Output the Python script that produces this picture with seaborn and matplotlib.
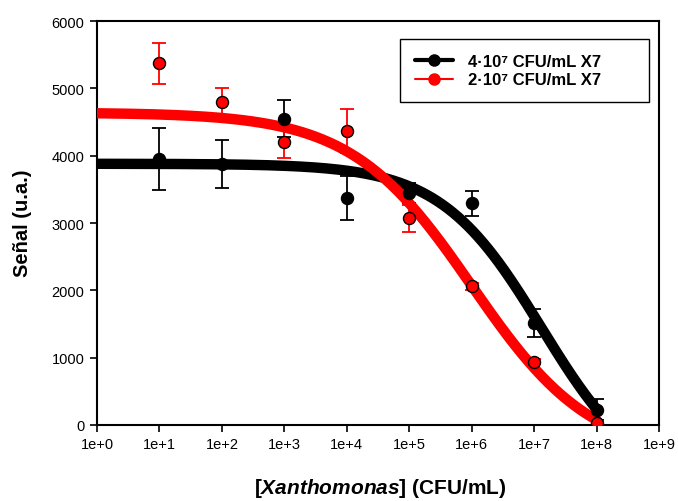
import numpy as np
import pandas as pd
import matplotlib
matplotlib.use("Agg")
import matplotlib.pyplot as plt
import seaborn as sns
from matplotlib.lines import Line2D

# ---- data ----
conc = [1e1, 1e2, 1e3, 1e4, 1e5, 1e6, 1e7, 1e8]
black_vals = [3950, 3880, 4550, 3370, 3450, 3290, 1510, 230]
black_err = [460, 360, 280, 330, 150, 190, 210, 150]
red_vals = [5370, 4800, 4210, 4370, 3070, 2060, 940, 30]
red_err = [300, 210, 250, 330, 200, 50, 40, 30]

# 4-parameter logistic fit parameters (top, bottom, log10 EC50, Hill slope)
black_fit = dict(top=3880, bottom=-1000, logx0=7.12, hill=0.534)
red_fit = dict(top=4640, bottom=-500, logx0=6.0, hill=0.45)

labels = ["4·10⁷ CFU/mL X7", "2·10⁷ CFU/mL X7"]
colors = ["black", "red"]
xtick_exps = list(range(0, 10))
yticks = [0, 1000, 2000, 3000, 4000, 5000, 6000]

sns.set_theme(style="ticks")
plt.rcParams["font.family"] = ["Liberation Sans", "DejaVu Sans"]
plt.rcParams["text.color"] = "black"
plt.rcParams["axes.labelcolor"] = "black"
plt.rcParams["mathtext.fontset"] = "custom"
plt.rcParams["mathtext.it"] = "Liberation Sans:italic:bold"
plt.rcParams["mathtext.rm"] = "Liberation Sans:bold"
plt.rcParams["mathtext.bf"] = "Liberation Sans:bold"

fig = plt.figure(figsize=(6.78, 5.02), dpi=100)
ax = fig.add_axes([97 / 678, 76 / 502, (659 - 97) / 678, (426 - 22) / 502])

xs = np.logspace(0, 8, 300)


def fourpl(x, top, bottom, logx0, hill):
    return bottom + (top - bottom) / (1 + (x / 10 ** logx0) ** hill)


curves = []
for lab, p in zip(labels, [black_fit, red_fit]):
    curves.append(pd.DataFrame({"x": xs, "y": fourpl(xs, **p), "series": lab}))
curve_df = pd.concat(curves)

pts = pd.DataFrame({
    "x": conc * 2,
    "y": black_vals + red_vals,
    "err": black_err + red_err,
    "series": [labels[0]] * len(conc) + [labels[1]] * len(conc),
})
palette = dict(zip(labels, colors))

# error bars
for lab, col in zip(labels, colors):
    sub = pts[pts.series == lab]
    ax.errorbar(sub.x, sub.y, yerr=sub.err, fmt="none", ecolor=col,
                elinewidth=1.3, capsize=5, capthick=1.3, zorder=2)

# fitted curves
sns.lineplot(data=curve_df, x="x", y="y", hue="series", palette=palette,
             linewidth=7.5, ax=ax, legend=False, zorder=3, sort=False,
             estimator=None)

# points
for lab, col in zip(labels, colors):
    sub = pts[pts.series == lab]
    sns.scatterplot(data=sub, x="x", y="y", color=col, edgecolor="black",
                    linewidth=1.0, s=75, ax=ax, zorder=4, legend=False)

ax.set_xscale("log")
ax.set_xlim(1e0, 1e9)
ax.set_ylim(0, 6000)
ax.set_xticks([10.0 ** e for e in xtick_exps])
ax.set_xticklabels([f"1e+{e}" for e in xtick_exps])
ax.xaxis.set_minor_locator(matplotlib.ticker.NullLocator())
ax.set_yticks(yticks)
ax.set_yticklabels([str(v) for v in yticks])
ax.tick_params(axis="both", direction="out", length=5, width=1.2,
               labelsize=10.5, colors="black", pad=4)
for s in ax.spines.values():
    s.set_visible(True)
    s.set_linewidth(1.5)
    s.set_color("black")
ax.grid(False)

ax.set_xlabel("")
ax.set_ylabel("")
fig.text(380 / 678, 1 - 489 / 502, "[$\\it{Xanthomonas}$] (CFU/mL)",
         fontsize=15, fontweight="bold", ha="center", va="center")
fig.text(23 / 678, 1 - 223 / 502, "Señal (u.a.)", fontsize=14.5,
         fontweight="bold", ha="center", va="center", rotation=90)

# legend
handles = [
    Line2D([], [], color="black", lw=3, marker="o", markersize=8,
           markerfacecolor="black", markeredgecolor="black"),
    Line2D([], [], color="red", lw=1.5, marker="o", markersize=8,
           markerfacecolor="red", markeredgecolor="red"),
]
x0 = (400 - 97) / 562
x1 = (649 - 97) / 562
ytop = (426 - 40) / 404
leg = ax.legend(handles, labels, loc="upper left",
                bbox_to_anchor=(x0, ytop - 0.2, x1 - x0, 0.2), mode="expand",
                borderaxespad=0, frameon=True, fancybox=False,
                edgecolor="black", framealpha=1, borderpad=0.9,
                handlelength=2.3, handletextpad=0.85, labelspacing=0.2,
                prop={"weight": "bold", "size": 12})
leg.get_frame().set_linewidth(1.0)

fig.savefig("out.png", dpi=100)
